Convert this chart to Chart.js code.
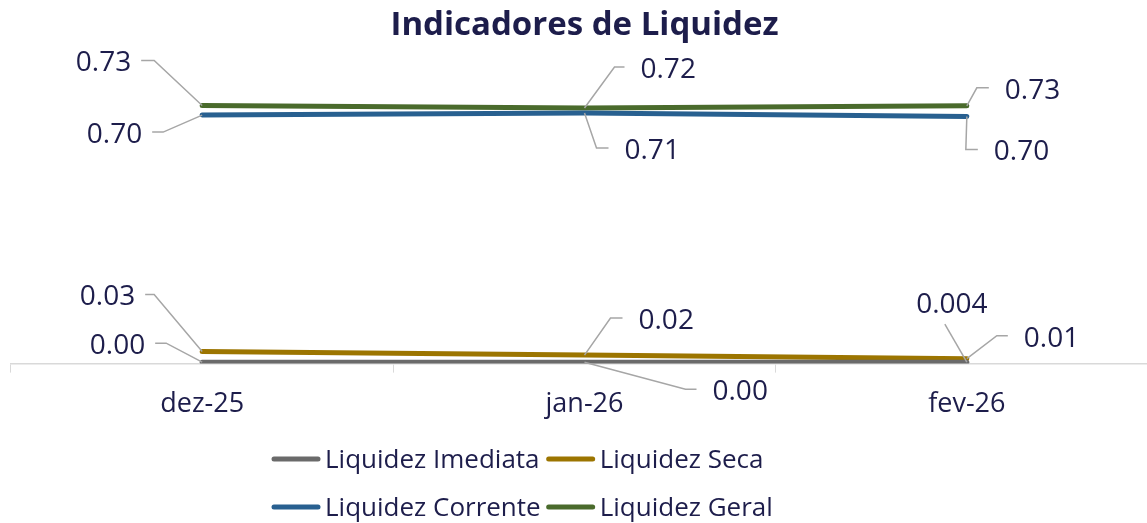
<!DOCTYPE html>
<html>
<head>
<meta charset="utf-8">
<script src="https://cdn.jsdelivr.net/npm/chart.js@4.4.1/dist/chart.umd.min.js"></script>
<style>
  html, body { margin: 0; padding: 0; background: #fff; overflow: hidden; }
</style>
</head>
<body>
<canvas id="liquidez-chart" width="1158" height="523"></canvas>
<script>
const months = ['dez-25', 'jan-26', 'fev-26'];
const seriesNames = ['Liquidez Imediata', 'Liquidez Seca', 'Liquidez Corrente', 'Liquidez Geral'];
const imediata = [0.004, 0.004, 0.004];
const seca = [0.034, 0.024, 0.014];
const corrente = [0.700, 0.706, 0.696];
const geral = [0.727, 0.720, 0.726];
// decimals shown on each data label
const labelDigits = [[2, 2, 3], [2, 2, 2], [2, 2, 2], [2, 2, 2]];

const TEXT = '#1d1d4b';
const FONT = 'Open Sans';
const colors = ['#6a6a6a', '#9c7500', '#286090', '#4a6b2c'];

// leader line shape per label: elbow offset from the point, then a short horizontal run
const leaders = [
  [{ dx: -36, dy: -19, h: -11 }, { dx: 101, dy: 27, h: 11 }, { dx: -22, dy: -38, h: 0, above: true }],
  [{ dx: -48, dy: -57, h: -9 }, { dx: 26, dy: -37, h: 12 }, { dx: 30, dy: -23, h: 11 }],
  [{ dx: -39, dy: 17, h: -11 }, { dx: 12, dy: 35, h: 12 }, { dx: -1, dy: 33, h: 12 }],
  [{ dx: -48, dy: -45, h: -13 }, { dx: 30, dy: -41, h: 10 }, { dx: 10, dy: -18, h: 12 }]
];

const leaderLabels = {
  id: 'leaderLabels',
  afterDatasetsDraw(chart) {
    const ctx = chart.ctx;
    ctx.save();
    chart.data.datasets.forEach((ds, i) => {
      chart.getDatasetMeta(i).data.forEach((pt, j) => {
        const lay = leaders[i][j];
        const ex = pt.x + lay.dx, ey = pt.y + lay.dy, hx = ex + lay.h;
        ctx.strokeStyle = '#a6a6a6';
        ctx.lineWidth = 1.5;
        ctx.beginPath();
        ctx.moveTo(pt.x, pt.y);
        ctx.lineTo(ex, ey);
        ctx.lineTo(hx, ey);
        ctx.stroke();

        const txt = ds.data[j].toFixed(labelDigits[i][j]);
        ctx.font = `28px "${FONT}"`;
        ctx.fillStyle = TEXT;
        ctx.textBaseline = 'middle';
        if (lay.above) {
          ctx.textAlign = 'center';
          ctx.fillText(txt, ex + 7, ey - 19);
        } else if (lay.h < 0) {
          ctx.textAlign = 'right';
          ctx.fillText(txt, hx - 10, ey + 3);
        } else {
          ctx.textAlign = 'left';
          ctx.fillText(txt, hx + 16, ey + 3);
        }
      });
    });
    ctx.restore();
  }
};

// two-row legend, items aligned in columns like the original
const gridLegend = {
  id: 'gridLegend',
  afterDraw(chart) {
    const ctx = chart.ctx;
    const rows = [[0, 1], [2, 3]];
    const rowY = [460, 508];
    const swatch = 48, gap = 5, colGap = 6;
    ctx.save();
    ctx.font = `26px "${FONT}"`;
    const itemW = i => swatch + gap + ctx.measureText(chart.data.datasets[i].label).width;
    const colW = [0, 1].map(c => Math.max(...rows.map(r => itemW(r[c]))));
    const x0 = 272;
    rows.forEach((row, r) => {
      let x = x0;
      row.forEach((idx, c) => {
        const ds = chart.data.datasets[idx];
        const y = rowY[r];
        ctx.strokeStyle = ds.borderColor;
        ctx.lineWidth = 5;
        ctx.lineCap = 'round';
        ctx.beginPath();
        ctx.moveTo(x + 2, y - 1);
        ctx.lineTo(x + swatch - 2, y - 1);
        ctx.stroke();
        ctx.fillStyle = TEXT;
        ctx.textAlign = 'left';
        ctx.textBaseline = 'middle';
        ctx.fillText(ds.label, x + swatch + gap, y + 1);
        x += colW[c] + colGap;
      });
    });
    ctx.restore();
  }
};

const seriesValues = [imediata, seca, corrente, geral];

new Chart(document.getElementById('liquidez-chart'), {
  type: 'line',
  data: {
    labels: months,
    datasets: seriesValues.map((vals, i) => ({
      label: seriesNames[i],
      data: vals,
      borderColor: colors[i],
      backgroundColor: colors[i],
      borderWidth: 5,
      borderCapStyle: 'round',
      pointRadius: 0,
      tension: 0
    }))
  },
  options: {
    responsive: false,
    animation: false,
    devicePixelRatio: 1,
    layout: { padding: { left: 11, right: 0, bottom: 86, top: 0 } },
    plugins: {
      legend: { display: false },
      tooltip: { enabled: false },
      title: {
        display: true,
        text: 'Indicadores de Liquidez',
        color: TEXT,
        font: { family: FONT, size: 33, weight: 'bold' },
        padding: { top: 6, bottom: 34 }
      }
    },
    scales: {
      x: {
        offset: true,
        grid: { offset: true, drawOnChartArea: false, drawTicks: true, tickLength: 9, color: '#d9d9d9' },
        border: { display: true, color: '#d9d9d9', width: 1.5 },
        ticks: { color: TEXT, padding: 16, font: { family: FONT, size: 27 } }
      },
      y: { display: false, min: 0, max: 0.8 }
    }
  },
  plugins: [leaderLabels, gridLegend]
});
</script>
</body>
</html>
